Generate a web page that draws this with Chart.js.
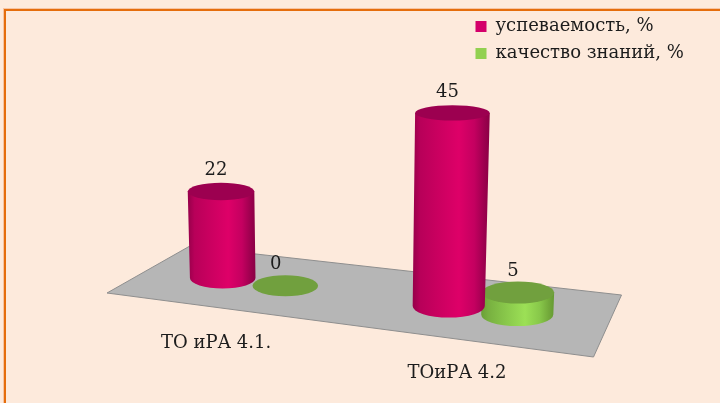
<!DOCTYPE html>
<html><head><meta charset="utf-8">
<style>
html,body{margin:0;padding:0;width:720px;height:403px;overflow:hidden;background:#FDEADC}
#frame{position:absolute;left:4px;top:9px;width:730px;height:410px;border:2px solid #E56D0C;box-shadow:0 0 0 1px rgba(240,150,90,.45)}
#wrap{position:absolute;left:0;top:0;width:720px;height:403px}
</style>
<script src="https://cdn.jsdelivr.net/npm/chart.js@4"></script>
</head><body>
<div id="frame"></div>
<div id="wrap"><canvas id="c" width="720" height="403"></canvas></div>
<script>
const categories = ['ТО иРА 4.1.', 'ТОиРА 4.2'];
const seriesNames = ['успеваемость, %', 'качество знаний, %'];
const uspevaemost = [22, 45];
const kachestvo = [0, 5];
const FONT = '"DejaVu Serif"';
const INK = '#1c1c1c';
const redTheme = {solid:'#D4006A', top:'#9C0050', stops:['#96004A','#B80059','#C8005F','#DE0068','#C40060','#9C004E','#8A0045']};
const greenTheme = {solid:'#92D050', top:'#71A03E', stops:['#6BA036','#78B040','#86C449','#9CE056','#88C84A','#72A83A','#659A32']};
const STOPS = [0,0.1,0.3,0.6,0.8,0.93,1];

// the cylinders are painted by the plugin below from the bar elements' own geometry
Chart.BarElement.prototype.draw = function(){};

const MID = 368, TILT = 0.124;
function project(chart, d, i){
  const el = chart.getDatasetMeta(d).data[i];
  const cx = chart.scales.x.getPixelForValue(i);
  const spread = 1 + 0.045*(cx-MID)/114;
  const x = cx + (el.x-cx)*spread;
  const rx = el.width/2*(1.05+0.05*(cx-MID)/114);
  const baseY = el.base + TILT*(x-MID);
  const h = (el.base-el.y)*(0.991+0.00038*(x-MID));
  return {x, rx, baseY, h, topX:x+(x-336)*h*1.7e-4, topY:baseY-h,
          topRx:rx*(1+h*0.00018), ry:rx*0.32, topRy:rx*0.32-h*0.02};
}
const cylinders = {
  id:'cylinders',
  beforeDraw(chart){
    const lg = chart.legend;
    lg.left = 466.5; lg.right = 715; lg.top = 8.5; lg.bottom = 200;
  },
  beforeDatasetsDraw(chart){
    const c = chart.ctx, a = chart.chartArea;
    // floor plane, sheared with the category axis
    const f = [[a.left-32.5,a.bottom-3],[a.left+49.5,a.bottom-49.5],[a.right+24,a.bottom-1],[a.right-4,a.bottom+61]];
    c.save();
    c.beginPath(); f.forEach((p,n)=>n?c.lineTo(p[0],p[1]):c.moveTo(p[0],p[1])); c.closePath();
    c.fillStyle='#B6B6B6'; c.fill();
    c.strokeStyle='#8E8E8E'; c.lineWidth=1; c.stroke();
    c.restore();
  },
  afterDatasetsDraw(chart){
    const c = chart.ctx;
    const themes = [redTheme, greenTheme];
    const items = [];
    [1,0].forEach(d=>chart.data.datasets[d].data.forEach((v,i)=>items.push({d,i,v})));
    items.forEach(({d,i,v})=>{
      const p = project(chart,d,i), t = themes[d];
      c.save();
      if(p.h>0.5){
        const L = Math.min(p.x-p.rx,p.topX-p.topRx), R = Math.max(p.x+p.rx,p.topX+p.topRx);
        const g = c.createLinearGradient(L,0,R,0);
        STOPS.forEach((s,n)=>g.addColorStop(s,t.stops[n]));
        c.beginPath();
        c.moveTo(p.topX-p.topRx,p.topY);
        c.lineTo(p.x-p.rx,p.baseY);
        c.ellipse(p.x,p.baseY,p.rx,p.ry,0,Math.PI,0,true);
        c.lineTo(p.topX+p.topRx,p.topY);
        c.closePath();
        c.fillStyle=g; c.fill();
      }
      c.beginPath();
      c.ellipse(p.topX,p.topY,p.topRx,p.topRy,0,0,Math.PI*2);
      c.fillStyle=t.top; c.fill();
      c.restore();
    });
    // value labels, drawn after every mark
    c.save();
    c.font='18px '+FONT; c.fillStyle=INK; c.textAlign='center'; c.textBaseline='middle';
    items.forEach(({d,i,v})=>{
      const p = project(chart,d,i);
      c.fillText(String(v), p.topX-(v===0?9.5:5), p.topY-21);
    });
    // category labels follow the sheared baseline
    const xs = chart.scales.x;
    categories.forEach((label,i)=>{
      const cx = xs.getPixelForValue(i);
      const lx = cx-32+0.052*(cx-MID);
      c.fillText(label, lx, chart.chartArea.bottom+TILT*(lx-MID)+66);
    });
    c.restore();
  }
};
new Chart(document.getElementById('c'),{
  type:'bar',
  data:{labels:categories,datasets:[
    {label:seriesNames[0],data:uspevaemost,backgroundColor:redTheme.solid,borderWidth:0,categoryPercentage:0.5725,barPercentage:1},
    {label:seriesNames[1],data:kachestvo,backgroundColor:greenTheme.solid,borderWidth:0,categoryPercentage:0.5725,barPercentage:1}
  ]},
  options:{
    responsive:false,animation:false,
    layout:{padding:{left:139.5,right:122.5,top:86,bottom:107}},
    scales:{
      x:{display:false,grid:{display:false}},
      y:{display:false,min:0,max:50,grid:{display:false}}
    },
    plugins:{
      tooltip:{enabled:false},
      legend:{position:'chartArea',align:'start',
        labels:{boxWidth:11,boxHeight:11,padding:9,color:INK,font:{family:FONT,size:18}}}
    }
  },
  plugins:[cylinders]
});
</script>
</body></html>
